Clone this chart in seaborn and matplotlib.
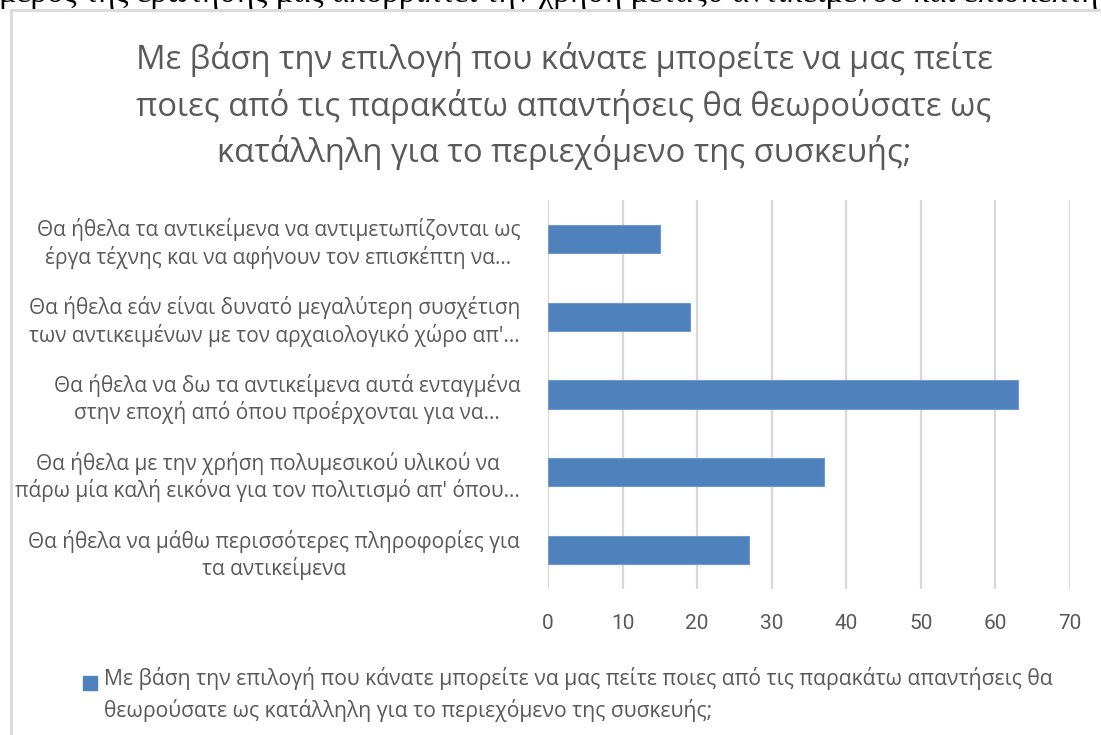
import matplotlib
matplotlib.use("Agg")
import matplotlib.pyplot as plt
import seaborn as sns
import pandas as pd
from matplotlib.patches import Rectangle
from matplotlib.lines import Line2D
from matplotlib.legend_handler import HandlerPatch

# Survey answers (category labels as shown on the axis) and counts
categories = [
    "Θα ήθελα τα αντικείμενα να αντιμετωπίζονται ως\nέργα τέχνης και να αφήνουν τον επισκέπτη να...",
    "Θα ήθελα εάν είναι δυνατό μεγαλύτερη συσχέτιση\nτων αντικειμένων με τον αρχαιολογικό χώρο απ'...",
    "Θα ήθελα να δω τα αντικείμενα αυτά ενταγμένα\nστην εποχή από όπου προέρχονται για να...",
    "Θα ήθελα με την χρήση πολυμεσικού υλικού να\nπάρω μία καλή εικόνα για τον πολιτισμό απ' όπου...",
    "Θα ήθελα να μάθω περισσότερες πληροφορίες για\nτα αντικείμενα",
]
counts = [15, 19, 63, 37, 27]
x_ticks = [0, 10, 20, 30, 40, 50, 60, 70]

title = ("Με βάση την επιλογή που κάνατε μπορείτε να μας πείτε\n"
         "ποιες από τις παρακάτω απαντήσεις θα θεωρούσατε ως\n"
         "κατάλληλη για το περιεχόμενο της συσκευής;")
series_name = ("Με βάση την επιλογή που κάνατε μπορείτε να μας πείτε ποιες από τις παρακάτω απαντήσεις θα\n"
               "θεωρούσατε ως κατάλληλη για το περιεχόμενο της συσκευής;")
page_text = "μέρος της ερώτησης μας απορρίπτει την χρήση μεταξύ αντικείμενου και επισκέπτη"

df = pd.DataFrame({"answer": categories, "count": counts})

sns.set_theme(style="white")
plt.rcParams["font.family"] = ["Open Sans", "DejaVu Sans"]

BAR = "#4F81BD"
TXT = "#595959"
GRID = "#D9D9D9"

fig = plt.figure(figsize=(11.01, 7.35), dpi=100)
W, H = 1101, 735
ax = fig.add_axes([548 / W, 1 - 589 / H, (1070 - 548) / W, (589 - 200) / H])

sns.barplot(data=df, x="count", y="answer", color=BAR, width=0.36,
            saturation=1, ax=ax, label=series_name, edgecolor="#6F9AD0", linewidth=0.8)
if ax.get_legend() is not None:
    ax.get_legend().remove()

ax.set_xlim(0, 70)
ax.set_ylim(4.5, -0.5)
ax.set_xticks(x_ticks)
ax.set_xticklabels([str(t) for t in x_ticks], family=["Roboto", "DejaVu Sans"],
                   fontsize=15, color=TXT)
ax.set_yticks(range(len(categories)))
ax.set_yticklabels(categories, fontsize=15, color=TXT, linespacing=1.25,
                   multialignment="center")
ax.tick_params(axis="x", length=0, pad=18)
ax.tick_params(axis="y", length=0, pad=20)
ax.set_xlabel("")
ax.set_ylabel("")
for s in ax.spines.values():
    s.set_visible(False)
ax.xaxis.grid(True, color=GRID, linewidth=1.6)
ax.set_axisbelow(True)

# Chart title
fig.text(0.5 * (135 + 993) / W, 1 - 106 / H, title, ha="center", va="center",
         fontsize=23.6, color=TXT, linespacing=1.43)


# Legend below the plot: square key aligned with the first text line
def top_square(legend, orig_handle, xdescent, ydescent, width, height, fontsize):
    sq = 0.68 * fontsize
    return Rectangle((-xdescent, -ydescent + height - sq), sq, sq)


handle = Rectangle((0, 0), 1, 1, facecolor=BAR, edgecolor=BAR)
leg = fig.legend([handle], [series_name], loc="upper left",
                 bbox_to_anchor=(64 / W, 1 - 648 / H), frameon=False,
                 handlelength=0.68, handleheight=2.6, handletextpad=0.3,
                 handler_map={Rectangle: HandlerPatch(patch_func=top_square)},
                 prop={"family": ["Open Sans", "DejaVu Sans"], "size": 15.2})
for t in leg.get_texts():
    t.set_color(TXT)
    t.set_linespacing(1.5)

# Chart frame (left and top edges)
fig.add_artist(Line2D([10.5 / W, 10.5 / W], [0, 1 - 10 / H], transform=fig.transFigure,
                      color=GRID, linewidth=2))
fig.add_artist(Line2D([10.5 / W, 1], [1 - 10 / H, 1 - 10 / H], transform=fig.transFigure,
                      color=GRID, linewidth=2))

# Page text line above the chart
fig.text(0.5 * 1098 / W, 1 - 2 / H, page_text, ha="center", va="baseline",
         family=["Liberation Serif", "DejaVu Serif"], fontsize=23.8, color="black")

fig.savefig("out.png", dpi=100)
